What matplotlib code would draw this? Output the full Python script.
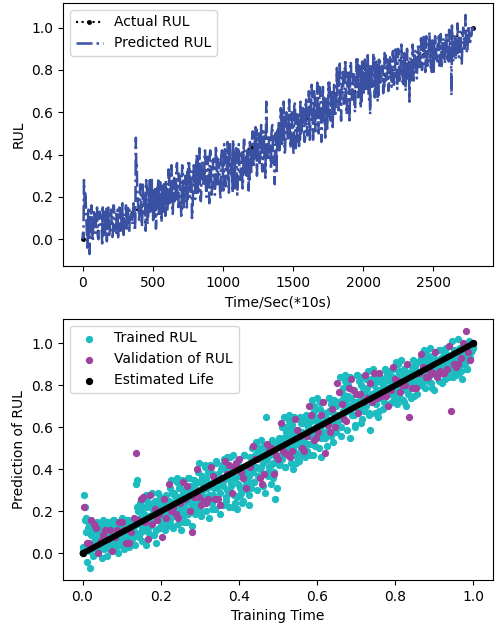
import matplotlib
matplotlib.use("Agg")
import matplotlib.pyplot as plt
import numpy as np

# the RUL series is read off in three interleaved passes (a, b, c),
# one value of each every 10 time units, so the step is 10/3
time_step = 10 / 3

predicted_a = [
    0.00, 0.28, 0.22, 0.05, 0.12, -0.07, 0.09, 0.02, 0.14, 0.04, 0.10, 0.01, 0.13, 0.06, -0.02, 0.11, 0.03, 0.15, 0.07, 0.02,
    0.12, 0.05, 0.16, 0.08, 0.03, 0.14, 0.09, 0.04, 0.15, 0.10, 0.06, 0.16, 0.11, 0.05, 0.14, 0.12, 0.08, 0.15, 0.48, 0.22,
    0.14, 0.24, 0.10, 0.27, 0.17, 0.04, 0.22, 0.13, 0.28, 0.15, 0.20, 0.09, 0.25, 0.16, 0.29, 0.12, 0.22, 0.18, 0.26, 0.11,
    0.24, 0.16, 0.31, 0.20, 0.13, 0.28, 0.22, 0.34, 0.17, 0.27, 0.21, 0.35, 0.15, 0.26, 0.30, 0.19, 0.36, 0.24, 0.10, 0.29,
    0.33, 0.22, 0.39, 0.27, 0.20, 0.36, 0.30, 0.41, 0.24, 0.34, 0.28, 0.42, 0.21, 0.37, 0.31, 0.44, 0.26, 0.35, 0.23, 0.40,
    0.32, 0.45, 0.25, 0.38, 0.29, 0.46, 0.34, 0.22, 0.41, 0.36, 0.27, 0.44, 0.31, 0.39, 0.24, 0.47, 0.35, 0.30, 0.42, 0.28,
    0.40, 0.50, 0.34, 0.45, 0.52, 0.37, 0.48, 0.41, 0.33, 0.51, 0.44, 0.65, 0.39, 0.49, 0.42, 0.53, 0.36, 0.26, 0.47, 0.43,
    0.55, 0.44, 0.60, 0.49, 0.41, 0.58, 0.52, 0.63, 0.46, 0.56, 0.50, 0.65, 0.43, 0.59, 0.53, 0.47, 0.62, 0.55, 0.49, 0.64,
    0.52, 0.60, 0.47, 0.66, 0.57, 0.70, 0.51, 0.63, 0.58, 0.72, 0.55, 0.61, 0.67, 0.48, 0.64, 0.59, 0.74, 0.56, 0.69, 0.62,
    0.58, 0.71, 0.65, 0.77, 0.60, 0.73, 0.68, 0.82, 0.63, 0.75, 0.70, 0.84, 0.66, 0.78, 0.61, 0.72, 0.85, 0.69, 0.76, 0.64,
    0.79, 0.70, 0.83, 0.74, 0.67, 0.59, 0.81, 0.76, 0.86, 0.71, 0.78, 0.68, 0.84, 0.75, 0.80, 0.72, 0.87, 0.77, 0.70, 0.82,
    0.76, 0.88, 0.73, 0.83, 0.79, 0.90, 0.74, 0.85, 0.80, 0.72, 0.87, 0.78, 0.84, 0.65, 0.81, 0.89, 0.75, 0.86, 0.79, 0.91,
    0.83, 0.93, 0.80, 0.89, 0.85, 0.96, 0.82, 0.91, 0.87, 0.79, 0.94, 0.86, 0.90, 0.84, 0.97, 0.88, 0.81, 0.92, 0.86, 0.95,
    0.89, 0.84, 0.93, 0.68, 0.88, 0.97, 0.85, 0.92, 0.90, 0.98, 0.87, 0.94, 0.91, 1.06, 0.88, 0.99, 0.93, 0.96, 1.00,
]

predicted_b = [
    0.03, 0.22, 0.17, -0.04, 0.14, 0.01, 0.16, -0.01, 0.12, 0.03, 0.15, 0.00, 0.13, 0.05, 0.16, 0.02, 0.11, -0.01, 0.15, 0.04,
    0.14, 0.01, 0.16, 0.04, 0.12, 0.00, 0.15, 0.06, 0.17, 0.02, 0.13, 0.05, 0.16, 0.03, 0.14, 0.07, 0.17, 0.04, 0.33, 0.20,
    0.08, 0.26, 0.06, 0.22, 0.11, 0.28, 0.07, 0.24, 0.13, 0.29, 0.09, 0.21, 0.05, 0.25, 0.12, 0.27, 0.08, 0.23, 0.14, 0.28,
    0.13, 0.33, 0.16, 0.35, 0.12, 0.29, 0.19, 0.36, 0.14, 0.31, 0.11, 0.34, 0.18, 0.30, 0.15, 0.36, 0.20, 0.32, 0.13, 0.35,
    0.19, 0.40, 0.22, 0.43, 0.18, 0.37, 0.25, 0.42, 0.20, 0.39, 0.17, 0.41, 0.24, 0.38, 0.21, 0.43, 0.26, 0.36, 0.19, 0.42,
    0.23, 0.44, 0.27, 0.46, 0.22, 0.41, 0.29, 0.47, 0.24, 0.43, 0.21, 0.45, 0.28, 0.40, 0.25, 0.47, 0.31, 0.42, 0.23, 0.46,
    0.31, 0.51, 0.34, 0.53, 0.30, 0.49, 0.36, 0.54, 0.32, 0.50, 0.29, 0.52, 0.37, 0.48, 0.33, 0.54, 0.38, 0.50, 0.31, 0.53,
    0.42, 0.62, 0.45, 0.65, 0.41, 0.60, 0.47, 0.66, 0.43, 0.61, 0.40, 0.64, 0.48, 0.59, 0.44, 0.65, 0.50, 0.62, 0.46, 0.66,
    0.49, 0.70, 0.52, 0.73, 0.47, 0.68, 0.55, 0.74, 0.50, 0.69, 0.46, 0.72, 0.56, 0.67, 0.51, 0.74, 0.58, 0.71, 0.53, 0.73,
    0.58, 0.81, 0.61, 0.84, 0.56, 0.79, 0.64, 0.85, 0.59, 0.80, 0.55, 0.83, 0.66, 0.78, 0.60, 0.85, 0.67, 0.82, 0.62, 0.84,
    0.68, 0.85, 0.70, 0.87, 0.66, 0.83, 0.72, 0.88, 0.67, 0.84, 0.65, 0.86, 0.74, 0.82, 0.69, 0.88, 0.75, 0.85, 0.71, 0.87,
    0.72, 0.89, 0.75, 0.91, 0.71, 0.87, 0.77, 0.92, 0.73, 0.88, 0.70, 0.90, 0.78, 0.86, 0.74, 0.92, 0.79, 0.89, 0.76, 0.91,
    0.80, 0.95, 0.82, 0.97, 0.79, 0.93, 0.84, 0.98, 0.81, 0.94, 0.78, 0.96, 0.85, 0.92, 0.82, 0.97, 0.86, 0.95, 0.83, 0.98,
    0.85, 0.99, 0.87, 1.01, 0.84, 0.97, 0.89, 1.02, 0.86, 0.98, 0.83, 1.00, 0.90, 0.96, 0.88, 1.01, 0.92, 0.97, 0.99,
]

predicted_c = [
    0.01, 0.16, 0.10, 0.02, 0.05, 0.11, 0.04, 0.10, 0.07, 0.12, 0.03, 0.08, 0.11, 0.04, 0.09, 0.13, 0.05, 0.10, 0.04, 0.11,
    0.09, 0.04, 0.12, 0.07, 0.11, 0.05, 0.13, 0.08, 0.04, 0.11, 0.14, 0.09, 0.06, 0.13, 0.10, 0.08, 0.13, 0.10, 0.35, 0.16,
    0.17, 0.21, 0.12, 0.19, 0.15, 0.25, 0.10, 0.18, 0.22, 0.14, 0.24, 0.18, 0.11, 0.22, 0.19, 0.15, 0.25, 0.13, 0.20, 0.17,
    0.21, 0.25, 0.19, 0.29, 0.22, 0.18, 0.26, 0.20, 0.31, 0.24, 0.19, 0.29, 0.23, 0.20, 0.32, 0.25, 0.21, 0.29, 0.20, 0.27,
    0.30, 0.25, 0.34, 0.29, 0.23, 0.33, 0.27, 0.36, 0.31, 0.26, 0.39, 0.32, 0.28, 0.35, 0.26, 0.31, 0.38, 0.29, 0.33, 0.36,
    0.35, 0.40, 0.30, 0.36, 0.42, 0.32, 0.38, 0.28, 0.36, 0.43, 0.33, 0.37, 0.29, 0.41, 0.36, 0.32, 0.39, 0.34, 0.37, 0.41,
    0.43, 0.39, 0.47, 0.41, 0.45, 0.50, 0.40, 0.46, 0.43, 0.38, 0.48, 0.45, 0.41, 0.47, 0.50, 0.43, 0.39, 0.46, 0.51, 0.45,
    0.51, 0.47, 0.55, 0.53, 0.48, 0.56, 0.50, 0.54, 0.59, 0.49, 0.53, 0.57, 0.46, 0.52, 0.56, 0.50, 0.58, 0.53, 0.48, 0.56,
    0.61, 0.56, 0.63, 0.59, 0.54, 0.65, 0.60, 0.57, 0.63, 0.66, 0.58, 0.62, 0.55, 0.64, 0.61, 0.68, 0.58, 0.63, 0.67, 0.60,
    0.70, 0.66, 0.72, 0.64, 0.71, 0.76, 0.67, 0.73, 0.70, 0.79, 0.68, 0.74, 0.71, 0.66, 0.76, 0.72, 0.69, 0.75, 0.80, 0.72,
    0.77, 0.73, 0.79, 0.75, 0.81, 0.76, 0.72, 0.80, 0.77, 0.74, 0.82, 0.78, 0.75, 0.81, 0.77, 0.83, 0.76, 0.79, 0.82, 0.78,
    0.79, 0.84, 0.80, 0.77, 0.82, 0.86, 0.81, 0.78, 0.85, 0.80, 0.83, 0.76, 0.82, 0.86, 0.79, 0.83, 0.87, 0.81, 0.84, 0.86,
    0.86, 0.83, 0.88, 0.91, 0.84, 0.87, 0.89, 0.85, 0.90, 0.86, 0.92, 0.88, 0.85, 0.90, 0.87, 0.93, 0.89, 0.86, 0.91, 0.88,
    0.90, 0.92, 0.87, 0.93, 0.90, 0.95, 0.91, 0.88, 0.96, 0.93, 0.90, 0.97, 0.94, 0.92, 0.96, 0.93, 0.97, 0.99, 0.98,
]

# actual RUL (straight line under the prediction)
actual_time = [0, 400, 800, 1200, 1600, 2000, 2400, 2780]
actual_rul = [0.0, 0.144, 0.288, 0.432, 0.576, 0.719, 0.863, 1.0]

# estimated life in the lower panel
estimated_x = [0.0, 1.0]
estimated_y = [0.0, 1.0]

blue = '#3a50a2'
cyan = '#1cbcc0'
purple = '#a0429f'

# interleave the three passes back into one series
pred = np.column_stack([predicted_a, predicted_b, predicted_c]).ravel()
time = np.arange(len(pred)) * time_step
train_time = time / time[-1]

# every fifth sample went to validation
is_val = (np.arange(len(pred)) % 5) == 4

fig = plt.figure(figsize=(4.97, 6.24), dpi=100)
ax1 = fig.add_axes([63 / 497, 1 - 266 / 624, 430 / 497, 263 / 624])
ax2 = fig.add_axes([63 / 497, 1 - 580 / 624, 430 / 497, 261 / 624])

# top: actual vs predicted
ax1.plot(actual_time, actual_rul, color='black', linestyle=':', marker='.', markersize=5, label='Actual RUL')
ax1.plot(time, pred, color=blue, linestyle='-.', linewidth=1.8, label='Predicted RUL')
ax1.set_xlabel('Time/Sec(*10s)')
ax1.set_ylabel('RUL')
ax1.set_xticks([0, 500, 1000, 1500, 2000, 2500])
ax1.legend(loc='upper left')

# bottom: scatter of trained / validation vs estimated life
ax2.scatter(train_time[~is_val], pred[~is_val], color=cyan, s=18, label='Trained RUL')
ax2.scatter(train_time[is_val], pred[is_val], color=purple, s=18, label='Validation of RUL')
ax2.plot(estimated_x, estimated_y, color='black', linewidth=4.3, solid_capstyle='round', zorder=3)
ax2.scatter(estimated_x, estimated_y, color='black', s=18, zorder=3, label='Estimated Life')
ax2.set_xlabel('Training Time')
ax2.set_ylabel('Prediction of RUL')
ax2.legend(loc='upper left')

fig.savefig('out.png', dpi=100)
